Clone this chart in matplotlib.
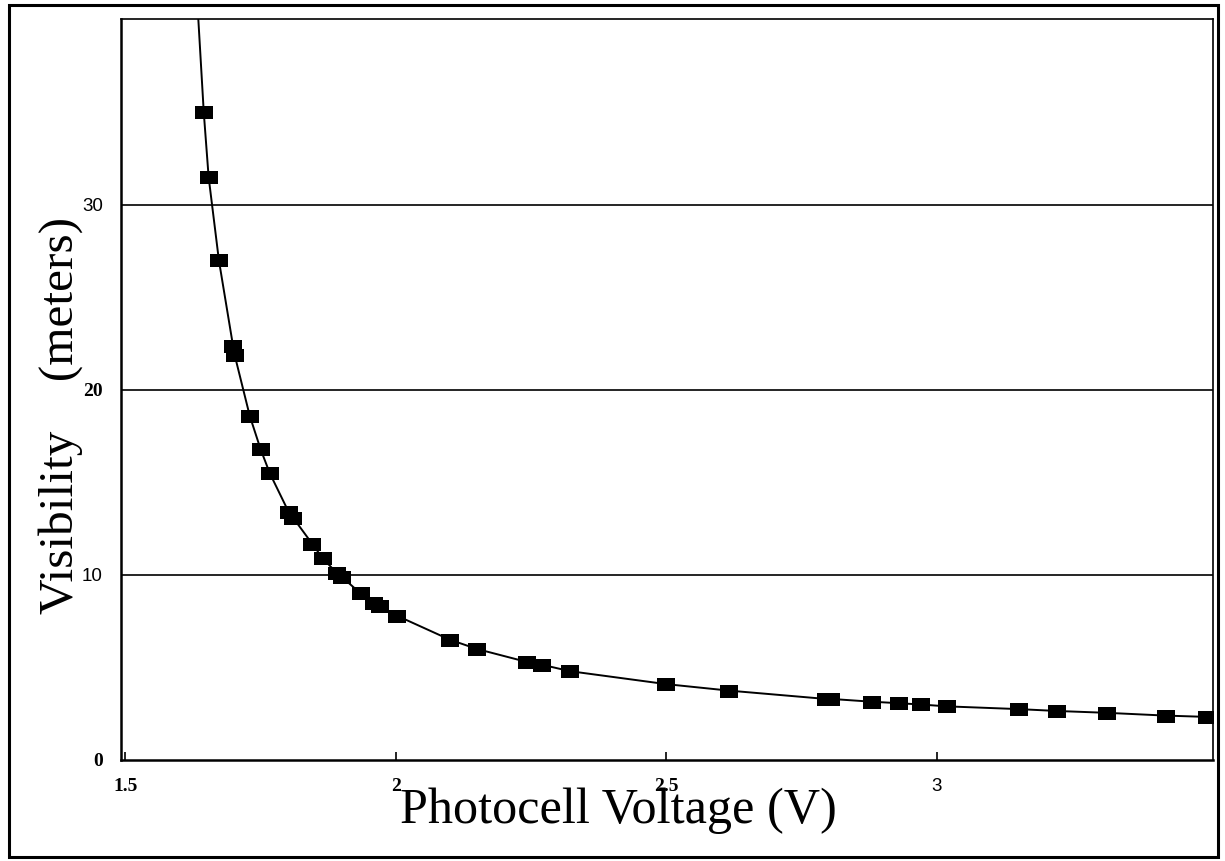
import matplotlib
matplotlib.use("Agg")
import matplotlib.pyplot as plt
from matplotlib.patches import Rectangle

# ---- data ----
voltage = [1.645, 1.654, 1.673, 1.699, 1.702, 1.730, 1.750, 1.767, 1.802, 1.810,
           1.845, 1.865, 1.891, 1.900, 1.935, 1.960, 1.970, 2.002, 2.100, 2.150,
           2.242, 2.270, 2.322, 2.500, 2.616, 2.795, 2.805, 2.880, 2.930, 2.970,
           3.018, 3.152, 3.222, 3.314, 3.423, 3.499]
visibility = [35.0, 31.5, 27.0, 22.4, 21.9, 18.6, 16.8, 15.5, 13.4, 13.1,
              11.7, 10.9, 10.1, 9.9, 9.0, 8.5, 8.3, 7.8, 6.5, 6.0,
              5.3, 5.15, 4.8, 4.1, 3.75, 3.3, 3.3, 3.15, 3.07, 3.0,
              2.9, 2.75, 2.65, 2.55, 2.4, 2.33]
# fitted curve leaves the top of the plot here
curve_top_x = [1.634]
curve_top_y = [40.5]

xticks = [1.5, 2, 2.5, 3]
xtick_labels = ["1.5", "2", "2.5", "3"]
yticks = [0, 10, 20, 30]
ytick_labels = ["0", "10", "20", "30"]

W, H = 1225, 861
fig = plt.figure(figsize=(W / 100, H / 100), dpi=100)
fig.patch.set_facecolor("white")

# outer frame
fig.add_artist(Rectangle((9 / W, 1 - 857 / H), (1218 - 9) / W, (857 - 5) / H,
                         transform=fig.transFigure, fill=False,
                         edgecolor="black", linewidth=2.2))

ax = fig.add_axes([121 / W, 1 - 760 / H, (1213 - 121) / W, (760 - 19) / H])
ax.set_xlim(1.492, 3.5105)
ax.set_ylim(0, 40.05)

# grid lines at 10, 20, 30
for g in yticks[1:]:
    ax.axhline(g, color="black", linewidth=1.2, zorder=1)

cx = curve_top_x + voltage
cy = curve_top_y + visibility
ax.plot(cx, cy, color="black", linewidth=1.4, zorder=2, clip_on=True)

rect_marker = [(-1, -0.72), (1, -0.72), (1, 0.72), (-1, 0.72), (-1, -0.72)]
ax.plot(voltage, visibility, linestyle="none", marker=rect_marker,
        markersize=13, color="black", markeredgewidth=0, zorder=3)

ax.set_xticks(xticks)
ax.set_xticklabels(xtick_labels)
ax.set_yticks(yticks)
ax.set_yticklabels(ytick_labels)
ax.tick_params(axis="x", direction="in", length=6, width=1.2, pad=13)
ax.tick_params(axis="y", length=0, pad=13)

serif_bold = dict(family="Liberation Serif", weight="bold", size=14)
sans = dict(family="Liberation Sans", weight="normal", size=13.5)
x_styles = [serif_bold, serif_bold, serif_bold, sans]
y_styles = [serif_bold, sans, serif_bold, sans]
for lab, st in zip(ax.get_xticklabels(), x_styles):
    lab.set_fontfamily(st["family"]); lab.set_fontweight(st["weight"]); lab.set_fontsize(st["size"])
for lab, st in zip(ax.get_yticklabels(), y_styles):
    lab.set_fontfamily(st["family"]); lab.set_fontweight(st["weight"]); lab.set_fontsize(st["size"])

for side in ["left", "bottom"]:
    ax.spines[side].set_linewidth(1.8)
for side in ["top", "right"]:
    ax.spines[side].set_linewidth(1.2)

fig.text(618 / W, 1 - 823 / H, "Photocell Voltage (V)", family="Liberation Serif",
         fontsize=36.2, ha="center", va="baseline")
fig.text(61 / W, 1 - 416 / H, "Visibility    (meters)", family="Liberation Serif",
         fontsize=35.5, ha="center", va="center", rotation=90)

fig.savefig("out.png", dpi=100)
